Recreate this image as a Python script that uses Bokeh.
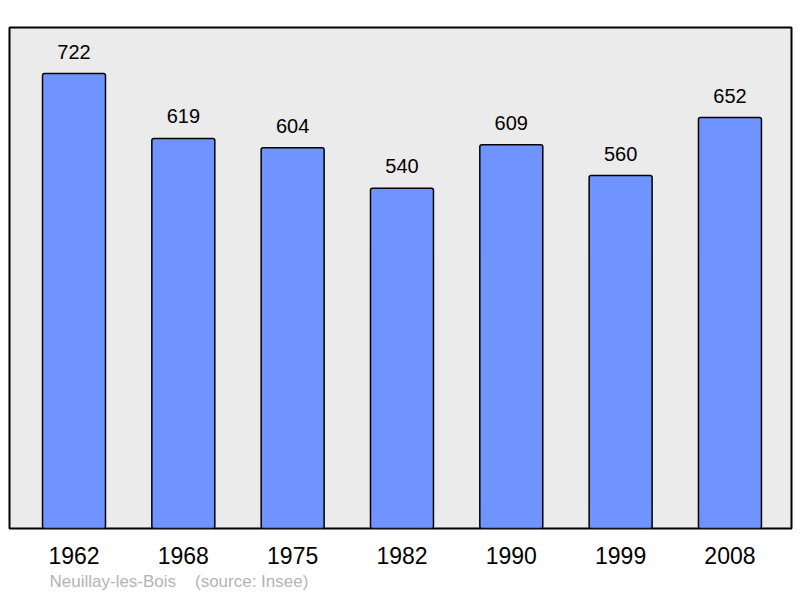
from bokeh.plotting import figure
from bokeh.models import Range1d, FixedTicker, ColumnDataSource, Title
from bokeh.core.properties import value
from bokeh.embed import file_html
from bokeh.resources import INLINE

years = ["1962", "1968", "1975", "1982", "1990", "1999", "2008"]
population = [722, 619, 604, 540, 609, 560, 652]
footer = "Neuillay-les-Bois\u00a0\u00a0\u00a0\u00a0(source: Insee)"

xs = list(range(len(years)))
src = ColumnDataSource(dict(x=xs, top=population, lab=[str(v) for v in population]))

p = figure(width=800, height=598, output_backend="svg", toolbar_location=None,
           x_range=Range1d(-0.59, 6.563), y_range=Range1d(0, 795),
           min_border_left=9, min_border_right=9, min_border_top=27, min_border_bottom=70)
p.background_fill_color = "#EBEBEB"
p.border_fill_color = "white"
p.outline_line_color = "black"
p.outline_line_width = 2
p.grid.visible = False
p.yaxis.visible = False

p.vbar(x="x", top="top", width=0.576, bottom=0, source=src,
       fill_color="#7094FF", line_color="black", line_width=1.5, border_radius=2)
p.text(x="x", y="top", text="lab", source=src, text_align="center", text_baseline="alphabetic",
       y_offset=-22, text_font=value("Liberation Sans"), text_font_size="20px", text_color="black")

ax = p.xaxis[0]
ax.ticker = FixedTicker(ticks=xs)
ax.major_label_overrides = {i: y for i, y in enumerate(years)}
ax.axis_line_color = None
ax.major_tick_line_color = None
ax.minor_tick_line_color = None
ax.major_label_text_font = "Liberation Sans"
ax.major_label_text_font_size = "23px"
ax.major_label_text_color = "black"
ax.major_label_standoff = 12

t = Title(text=footer, align="left", offset=40, text_font="Liberation Sans",
          text_font_size="17px", text_color="#B4B4B4", text_font_style="normal",
          standoff=7)
p.add_layout(t, "below")

open("out.html", "w").write(file_html(p, INLINE))
